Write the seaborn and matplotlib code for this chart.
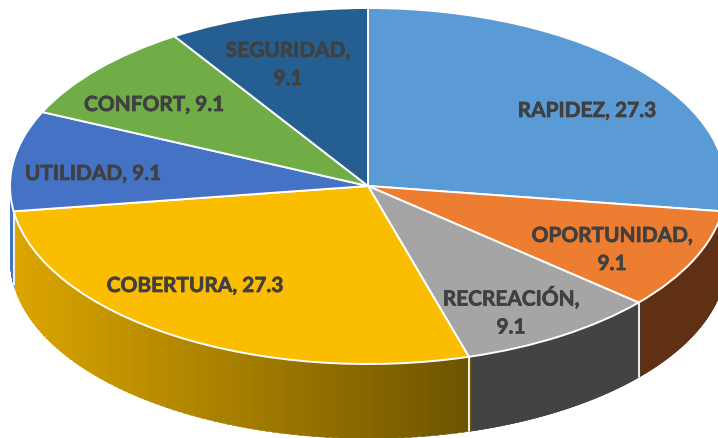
import numpy as np
import matplotlib
matplotlib.use("Agg")
import matplotlib.pyplot as plt
import matplotlib.patheffects as pe
import seaborn as sns

categories = ["RAPIDEZ", "OPORTUNIDAD", "RECREACIÓN", "COBERTURA", "UTILIDAD", "CONFORT", "SEGURIDAD"]
values = [27.3, 9.1, 9.1, 27.3, 9.1, 9.1, 9.1]
top_colors = ["#5B9BD5", "#ED7D31", "#A5A5A5", "#FBBD00", "#4472C4", "#70AD47", "#255E91"]
wall_light = ["#5B9BD5", "#5F3013", "#434343", "#DCA600", "#4472C4", "#70AD47", "#255E91"]
wall_dark = ["#5B9BD5", "#5F3013", "#434343", "#6E5400", "#4472C4", "#70AD47", "#255E91"]
label_breaks = [False, True, True, False, False, False, True]
label_x = [587, 612, 511, 195, 93, 154, 288]
label_y = [111, 250, 312, 286, 174, 105, 65]

sns.set_theme(style="white")
plt.rcParams["font.family"] = ["Lato", "DejaVu Sans"]

W, H = 718, 438
CX, CY, RX, RY, DEPTH = 368, 186, 358, 178, 74
fig = plt.figure(figsize=(W / 100, H / 100), dpi=100, facecolor="white")
ax = fig.add_axes([0, 0, 1, 1])
ax.set_xlim(0, W)
ax.set_ylim(H, 0)
ax.axis("off")

vals = np.array(values)
edges = 90 - np.concatenate([[0], np.cumsum(vals)]) / vals.sum() * 360
to_rgb = matplotlib.colors.to_rgb

# Side wall: only the front half of the rim (angles -180..0) is visible
for i in range(len(vals)):
    lo, hi = max(edges[i + 1], -180), min(edges[i], 0)
    if lo >= hi:
        continue
    ts = np.linspace(lo, hi, 90)
    c0, c1 = np.array(to_rgb(wall_light[i])), np.array(to_rgb(wall_dark[i]))
    x_lo = CX + RX * np.cos(np.radians(lo))
    x_hi = CX + RX * np.cos(np.radians(hi))
    for j in range(len(ts) - 1):
        t = np.radians(ts[j:j + 2] + [0, 0.3])
        x = CX + RX * np.cos(t)
        y = CY - RY * np.sin(t)
        f = np.clip((x.mean() - x_lo) / (x_hi - x_lo), 0, 1)
        ax.fill_between(x, y, y + DEPTH, color=c0 + (c1 - c0) * f, lw=0.4)

# White seams on the wall where visible slices meet
for a in edges[1:-1]:
    if -180 < a < 0:
        xs = CX + RX * np.cos(np.radians(a))
        ys = CY - RY * np.sin(np.radians(a))
        ax.plot([xs, xs], [ys, ys + DEPTH], color="white", lw=1.3)

# Top surface: the library's pie on a squashed axes
ax_pie = fig.add_axes([(CX - RX) / W, 1 - (CY + RY) / H, 2 * RX / W, 2 * RY / H])
ax_pie.pie(values, colors=top_colors, startangle=90, counterclock=False, radius=1,
           wedgeprops=dict(edgecolor="white", linewidth=1.4, clip_on=False), frame=False)
ax_pie.set_xlim(-1, 1)
ax_pie.set_ylim(-1, 1)
ax_pie.set_aspect("auto")
ax_pie.patch.set_alpha(0)

for cat, v, brk, lx, ly in zip(categories, values, label_breaks, label_x, label_y):
    sep = ",\n" if brk else ", "
    ax_pie.text(lx, ly, f"{cat}{sep}{v}", transform=ax.transData, ha="center", va="center",
                fontsize=15, fontweight="bold", color="#404040", linespacing=1.5, clip_on=False,
                path_effects=[pe.withStroke(linewidth=0.5, foreground="#404040")])

fig.savefig("out.png", dpi=100, facecolor="white")
